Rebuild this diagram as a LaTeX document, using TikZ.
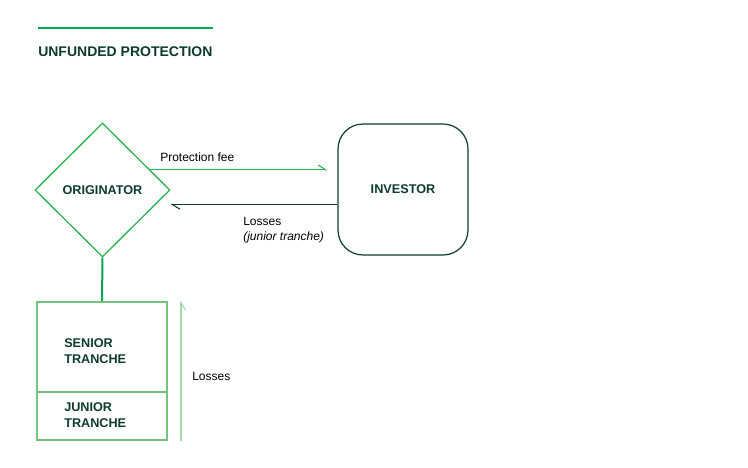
\documentclass[tikz,border=0pt]{standalone}
\usepackage{fontspec}
\setmainfont{Liberation Sans}
\usetikzlibrary{shapes.geometric,arrows.meta}
\definecolor{inkgreen}{HTML}{0E3B2E}
\definecolor{rulegreen}{HTML}{00A651}
\definecolor{midgreen}{HTML}{2DB34F}
\definecolor{palegreen}{HTML}{74C480}
\definecolor{faintgreen}{HTML}{A3D9AA}
\tikzset{
    boldlbl/.style={text=inkgreen, font=\fontsize{9.5}{12}\selectfont\bfseries},
    plainlbl/.style={text=black, font=\fontsize{9}{11}\selectfont},
    halfbarb/.style={-{Straight Barb[harpoon, length=5.5pt, width=7pt]}},
    tranche/.style={draw=palegreen, line width=1.5pt, minimum width=97.5pt},
    tranchelbl/.style={anchor=west, inner sep=0, align=left, boldlbl}
}
\begin{document}
\begin{tikzpicture}[x=0.75pt, y=-0.75pt]
        \useasboundingbox (0,0) rectangle (748,467);
        % Title
        \draw[rulegreen, line width=2pt] (38,28) -- (213,28);
        \node (title) [anchor=base west, inner sep=0, boldlbl,
            font=\fontsize{10.5}{12}\selectfont\bfseries] at (38,56.7) {UNFUNDED PROTECTION};
        % Parties
        \node (orig) [diamond, draw=midgreen, line width=1pt, inner sep=0,
            minimum width=101.25pt, minimum height=100.5pt, boldlbl] at (102.5,190) {ORIGINATOR};
        \node (inv) [draw=inkgreen, line width=0.9pt, rounded corners=18.75pt,
            minimum width=97.5pt, minimum height=98.25pt, boldlbl] at (403,189.5) {INVESTOR};
        % Tranches
        \node (senior) [tranche, minimum height=67.5pt] at (102,347) {};
        \node (junior) [tranche, minimum height=36pt] at (102,416) {};
        \node (seniorlbl) [tranchelbl] at ([xshift=21pt, yshift=-3pt]senior.west) {SENIOR\\TRANCHE};
        \node (juniorlbl) [tranchelbl] at ([xshift=21pt, yshift=0.5pt]junior.west) {JUNIOR\\TRANCHE};
        \draw[rulegreen, line width=1.5pt] (orig.south) -- (senior.north);
        % Flows
        \draw[midgreen, line width=0.8pt, halfbarb, shorten >=7.5pt] (orig.23) -- (orig.23 -| inv.west);
        \draw[inkgreen, line width=0.8pt, halfbarb]
            ([yshift=-11.25pt]inv.west) -- ([yshift=-11.25pt]inv.west -| orig.east);
        \draw[faintgreen, line width=0.8pt,
            -{Straight Barb[harpoon, swap, length=5.5pt, width=7pt]}]
            ([xshift=9.75pt]junior.south east) -- ([xshift=9.75pt]senior.north east);
        % Labels
        \node (feelbl) [anchor=base west, inner sep=0, plainlbl] at (160,161.5) {Protection fee};
        \node (losslbl) [anchor=base west, inner sep=0, plainlbl] at (243,225.5) {Losses};
        \node (jrlbl) [anchor=base west, inner sep=0, plainlbl] at (243,240) {\itshape(junior tranche)};
        \node (trlbl) [anchor=base west, inner sep=0, plainlbl] at (192,380) {Losses};
    \end{tikzpicture}
\end{document}
